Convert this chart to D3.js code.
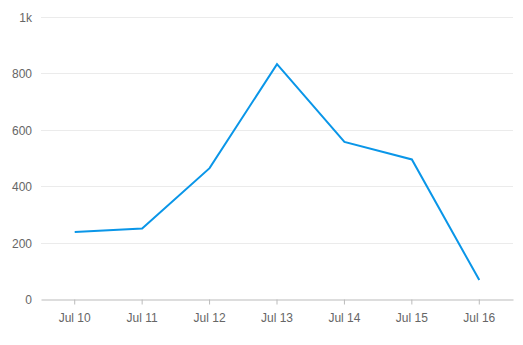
<!DOCTYPE html>
<html><head><meta charset="utf-8">
<script src="https://cdn.jsdelivr.net/npm/d3@7"></script>
<style>body{margin:0;background:#fff;}svg{display:block;font-family:"Liberation Sans",Arial,sans-serif;}</style>
</head><body>
<svg id="c" width="523" height="345"></svg>
<script>
const categories = ["Jul 10","Jul 11","Jul 12","Jul 13","Jul 14","Jul 15","Jul 16"];
const values = [238, 250, 464, 833, 557, 495, 67];
const yTicks = [0, 200, 400, 600, 800, 1000];
const yTickLabels = ["0","200","400","600","800","1k"];

const svg = d3.select("#c");
const mLeft = 41, mRight = 513, mTop = 17, mBottom = 299;
const x = d3.scaleBand().domain(categories).range([mLeft, mRight]);
const y = d3.scaleLinear().domain([0, 1000]).range([mBottom, mTop]);

// gridlines
svg.append("g").selectAll("line").data(yTicks.filter(d => d > 0)).join("line")
  .attr("x1", mLeft).attr("x2", mRight)
  .attr("y1", d => Math.round(y(d)) + 0.5).attr("y2", d => Math.round(y(d)) + 0.5)
  .attr("stroke", "#ebebeb").attr("stroke-width", 1);

// y labels
svg.append("g").selectAll("text").data(yTicks).join("text")
  .attr("x", 32).attr("y", d => y(d) + 5)
  .attr("text-anchor", "end").attr("font-size", 12).attr("fill", "#666")
  .text((d, i) => yTickLabels[i]);

// x axis
const xAxis = d3.axisBottom(x).tickSize(5).tickSizeOuter(0).tickPadding(9);
const gx = svg.append("g").attr("transform", `translate(0,${mBottom + 0.5})`).call(xAxis);
gx.select(".domain").attr("stroke", "#bbb");
gx.selectAll(".tick line").attr("stroke", "#bbb");
gx.selectAll(".tick text").attr("font-size", 12).attr("fill", "#666")
  .attr("font-family", "'Liberation Sans',Arial,sans-serif");

// line
const line = d3.line().x((d, i) => x(categories[i]) + x.bandwidth() / 2).y(d => y(d));
svg.append("path").datum(values).attr("d", line)
  .attr("fill", "none").attr("stroke", "#0a96e8").attr("stroke-width", 2)
  .attr("stroke-linejoin", "miter");
</script>
</body></html>
